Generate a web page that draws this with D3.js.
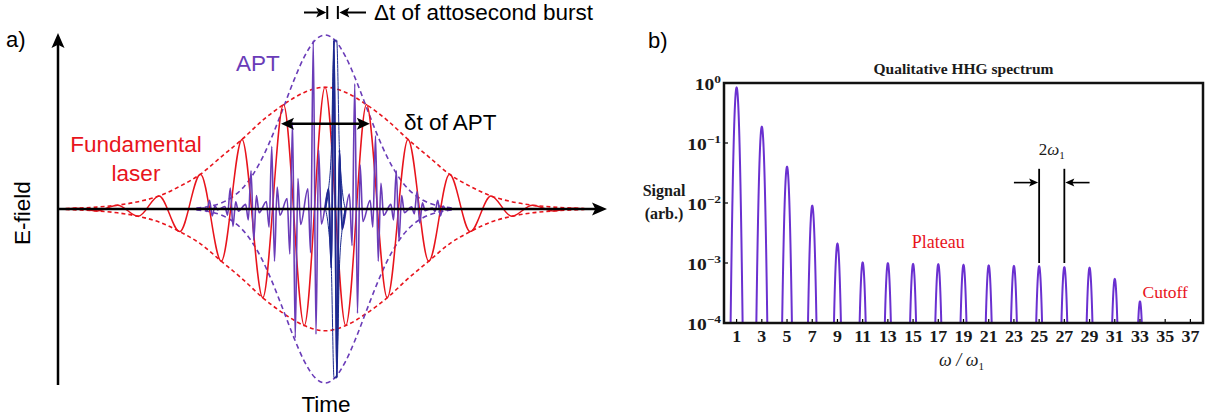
<!DOCTYPE html>
<html>
<head>
<meta charset="utf-8">
<script src="https://cdn.jsdelivr.net/npm/d3@7"></script>
<style>
  html, body { margin: 0; padding: 0; background: #fff; }
  svg { display: block; }
</style>
</head>
<body>
<svg id="fig" width="1205" height="419"></svg>
<script>
// ---------- Panel a: fundamental laser field and attosecond pulse train ----------
// time in optical cycles of the fundamental, field normalised to the APT peak

// extrema of the fundamental field (half-cycle spacing)
const laserTimes = [-6.25, -6, -5.5, -5, -4.5, -4, -3.5, -3, -2.5, -2, -1.5, -1, -0.5, 0,
                    0.5, 1, 1.5, 2, 2.5, 3, 3.5, 4, 4.5, 5, 5.5, 6, 6.25];
const laserField = [0, 0.005, -0.011, 0.022, -0.042, 0.075, -0.13, 0.20, -0.30, 0.40, -0.51, 0.60, -0.67, 0.70,
                    -0.67, 0.60, -0.51, 0.40, -0.30, 0.20, -0.13, 0.075, -0.042, 0.022, -0.011, 0.005, 0];

// envelope of the fundamental (dashed red)
const laserEnvTimes = [-6.25, -6, -5.5, -5, -4.5, -4, -3.5, -3, -2.5, -2, -1.5, -1, -0.5, 0,
                       0.5, 1, 1.5, 2, 2.5, 3, 3.5, 4, 4.5, 5, 5.5, 6, 6.25];
const laserEnv = [0.003, 0.005, 0.011, 0.022, 0.042, 0.075, 0.13, 0.20, 0.30, 0.40, 0.51, 0.60, 0.67, 0.70,
                  0.67, 0.60, 0.51, 0.40, 0.30, 0.20, 0.13, 0.075, 0.042, 0.022, 0.011, 0.005, 0.003];

// envelope of the attosecond pulse train (dashed purple)
const aptEnvTimes = [-3.1, -2.75, -2.5, -2.25, -2, -1.75, -1.5, -1.25, -1, -0.75, -0.5, -0.25, 0,
                     0.25, 0.5, 0.75, 1, 1.25, 1.5, 1.75, 2, 2.25, 2.5, 2.75, 3.1];
const aptEnv = [0.005, 0.017, 0.035, 0.066, 0.116, 0.193, 0.298, 0.432, 0.584, 0.739, 0.874, 0.967, 1,
                0.967, 0.874, 0.739, 0.584, 0.432, 0.298, 0.193, 0.116, 0.066, 0.035, 0.017, 0.005];

// one attosecond burst per half-cycle, at the zero crossings of the fundamental
const burstTimes = [-2.75, -2.25, -1.75, -1.25, -0.75, -0.25, 0.25, 0.75, 1.25, 1.75, 2.25, 2.75];
const burstUp    = [0.05, 0.12, 0.22, 0.36, 0.50, 0.97, 0.97, 0.72, 0.42, 0.22, 0.10, 0.05];
const burstDown  = [0.04, 0.10, 0.18, 0.30, 0.74, 0.72, 0.97, 0.60, 0.30, 0.18, 0.08, 0.04];
// extrema inside a single burst (offset in cycles, relative field)
const burstOffsets = [-0.1625, -0.0975, -0.0325, 0.0325, 0.0975, 0.1625];
const burstShape   = [0.12, -0.35, 1, -1, 0.35, -0.12];
const highlightedBurst = 6;   // the single attosecond burst drawn in blue

// ---------- Panel b: qualitative HHG spectrum ----------
const harmonicOrders = [1, 3, 5, 7, 9, 11, 13, 15, 17, 19, 21, 23, 25, 27, 29, 31, 33];
const harmonicSignal = [0.84, 0.186, 0.040, 0.0090, 0.0021, 0.00102, 0.00099, 0.00096, 0.00095,
                        0.00093, 0.00091, 0.00089, 0.00088, 0.00085, 0.00083, 0.00054, 0.000228];
const harmonicWidth = 0.112;   // rms width of each harmonic line, in units of omega_1
const xTickValues = [1, 3, 5, 7, 9, 11, 13, 15, 17, 19, 21, 23, 25, 27, 29, 31, 33, 35, 37];
const yTickValues = [1, 0.1, 0.01, 0.001, 0.0001];
const yTickExponents = ['0', '\u22121', '\u22122', '\u22123', '\u22124'];

// ---------- styling ----------
const RED = '#e8141c', PURPLE = '#6a3cb8', BLUE = '#1b2a8f', VIOLET = '#6a30d0';
const sans = "'Liberation Sans', Arial, sans-serif";
const serif = "'Liberation Serif', 'Times New Roman', serif";

const svg = d3.select('#fig');

function arrowHead(g, x, y, angle, len, half) {
  const c = Math.cos(angle), s = Math.sin(angle);
  const bx = x - c * len, by = y - s * len;
  const nx = x - c * len * 0.78, ny = y - s * len * 0.78;
  const p = d3.path();
  p.moveTo(x, y);
  p.lineTo(bx - s * half, by + c * half);
  p.lineTo(nx, ny);
  p.lineTo(bx + s * half, by - c * half);
  p.closePath();
  g.append('path').attr('d', p.toString()).attr('fill', '#000');
}

// =================== Panel a ===================
const ga = svg.append('g');
const xA = d3.scaleLinear().domain([-1, 1]).range([325 - 41.5, 325 + 41.5]);
const yA = d3.scaleLinear().domain([-1, 1]).range([383, 35]);
const lineA = d3.line().x(d => xA(d[0])).y(d => yA(d[1])).curve(d3.curveMonotoneX);

// dashed envelopes
[1, -1].forEach(sgn => {
  ga.append('path')
    .attr('d', lineA(laserEnvTimes.map((t, i) => [t, sgn * laserEnv[i]])))
    .attr('fill', 'none').attr('stroke', RED).attr('stroke-width', 1.6)
    .attr('stroke-dasharray', '4,3');
});
[1, -1].forEach(sgn => {
  ga.append('path')
    .attr('d', lineA(aptEnvTimes.map((t, i) => [t, sgn * aptEnv[i]])))
    .attr('fill', 'none').attr('stroke', PURPLE).attr('stroke-width', 1.6)
    .attr('stroke-dasharray', '5,3.5');
});

// fundamental field
ga.append('path')
  .attr('d', lineA(laserTimes.map((t, i) => [t, laserField[i]])))
  .attr('fill', 'none').attr('stroke', RED).attr('stroke-width', 1.5);

// attosecond pulse train
function burstPoints(k) {
  return burstOffsets.map((o, j) => {
    const a = burstShape[j] > 0 ? burstUp[k] : burstDown[k];
    return [burstTimes[k] + o, a * burstShape[j]];
  });
}
let train = [[-3.05, 0]];
burstTimes.forEach((t, k) => { train = train.concat(burstPoints(k)); });
train.push([3.05, 0]);
ga.append('path')
  .attr('d', lineA(train))
  .attr('fill', 'none').attr('stroke', PURPLE).attr('stroke-width', 1.6);

// highlighted single burst with its envelope
const hb = highlightedBurst;
const hbPts = [[burstTimes[hb] - 0.24, 0]].concat(burstPoints(hb), [[burstTimes[hb] + 0.24, 0]]);
ga.append('path')
  .attr('d', lineA(hbPts))
  .attr('fill', 'none').attr('stroke', BLUE).attr('stroke-width', 1.8);
[1, -1].forEach(sgn => {
  const env = [[burstTimes[hb] - 0.24, 0]]
    .concat(burstPoints(hb).map(p => [p[0], sgn * Math.abs(p[1])]))
    .concat([[burstTimes[hb] + 0.24, 0]]);
  ga.append('path')
    .attr('d', lineA(env))
    .attr('fill', 'none').attr('stroke', BLUE).attr('stroke-width', 1);
});

// axes with arrows
const x0 = 58, y0 = yA(0);
ga.append('line').attr('x1', x0).attr('x2', x0).attr('y1', 385).attr('y2', 44)
  .attr('stroke', '#000').attr('stroke-width', 2.5);
arrowHead(ga, x0, 33, -Math.PI / 2, 15, 6.5);
ga.append('line').attr('x1', x0).attr('x2', 596).attr('y1', y0).attr('y2', y0)
  .attr('stroke', '#000').attr('stroke-width', 2.5);
arrowHead(ga, 607, y0, 0, 15, 6.5);

// delta-t of APT double arrow (between the fundamental peaks at t = -1 and t = +1)
const yd = yA(0.49);
const la = xA(-1.06), ra = xA(1.08);
ga.append('line').attr('x1', la + 10).attr('x2', ra - 10).attr('y1', yd).attr('y2', yd)
  .attr('stroke', '#000').attr('stroke-width', 2.5);
arrowHead(ga, la, yd, Math.PI, 13, 6);
arrowHead(ga, ra, yd, 0, 13, 6);

// width marker of the single burst
const b1 = xA(0.03), b2 = xA(0.31), yb = 12.5;
ga.append('line').attr('x1', b1 + 1).attr('x2', b1 + 1).attr('y1', 6).attr('y2', 19).attr('stroke', '#000').attr('stroke-width', 2);
ga.append('line').attr('x1', b2).attr('x2', b2).attr('y1', 6).attr('y2', 19).attr('stroke', '#000').attr('stroke-width', 2);
ga.append('line').attr('x1', 304).attr('x2', b1 - 8).attr('y1', yb).attr('y2', yb).attr('stroke', '#000').attr('stroke-width', 2);
arrowHead(ga, b1, yb, 0, 10, 5);
ga.append('line').attr('x1', b2 + 8).attr('x2', 366).attr('y1', yb).attr('y2', yb).attr('stroke', '#000').attr('stroke-width', 2);
arrowHead(ga, b2 + 1.5, yb, Math.PI, 10, 5);

// labels
const ta = (x, y, s, color, size, anchor) =>
  ga.append('text').attr('x', x).attr('y', y).text(s)
    .attr('font-family', sans).attr('font-size', size || 22.5)
    .attr('fill', color || '#000').attr('text-anchor', anchor || 'start');
ta(6, 47, 'a)', '#000', 22);
ta(374, 20, '\u0394t of attosecond burst');
ta(236, 71, 'APT', PURPLE);
ta(136, 152, 'Fundamental', RED, 22.5, 'middle');
ta(136, 181, 'laser', RED, 22.5, 'middle');
ta(404, 130, '\u03b4t of APT');
ta(326, 412, 'Time', '#000', 22.5, 'middle');
ga.append('text').attr('transform', 'translate(30,213) rotate(-90)')
  .attr('text-anchor', 'middle').attr('font-family', sans).attr('font-size', 22.5)
  .text('E-field');

// =================== Panel b ===================
const gb = svg.append('g');
const L = 724, R = 1203, T = 83, B = 323;
const xB = d3.scaleLinear().domain([0, 38]).range([L, R]);
const yB = d3.scaleLog().domain([1e-4, 1]).range([B, T]);

gb.append('defs').append('clipPath').attr('id', 'plotClip')
  .append('rect').attr('x', L).attr('y', T).attr('width', R - L).attr('height', B - T);

// spectrum: sum of harmonic lines sampled finely along omega/omega_1
const grid = d3.range(0, 38.0001, 0.01);
const spectrum = grid.map(w => {
  let s = 1e-7;
  harmonicOrders.forEach((q, i) => {
    const d = (w - q) / harmonicWidth;
    s += harmonicSignal[i] * Math.exp(-0.5 * d * d);
  });
  return [w, s];
});
gb.append('path')
  .attr('clip-path', 'url(#plotClip)')
  .attr('d', d3.line().x(d => xB(d[0])).y(d => yB(d[1]))(spectrum))
  .attr('fill', 'none').attr('stroke', VIOLET).attr('stroke-width', 2);

// stretched serif text helper (panel b lettering is wide)
function serifText(g, x, y, anchor, size, weight, stretch) {
  return g.append('text')
    .attr('transform', `translate(${x},${y}) scale(${stretch || 1},1)`)
    .attr('text-anchor', anchor).attr('font-family', serif)
    .attr('font-size', size).attr('font-weight', weight || 'normal').attr('fill', '#1a1a1a');
}

// ticks (inward)
xTickValues.forEach(v => {
  gb.append('line').attr('x1', xB(v)).attr('x2', xB(v)).attr('y1', B).attr('y2', B - 4)
    .attr('stroke', '#000').attr('stroke-width', 1.2);
  serifText(gb, xB(v), 342, 'middle', 16, 'bold', 1.12).text(v);
});
yTickValues.forEach((v, i) => {
  gb.append('line').attr('x1', L).attr('x2', L + 4).attr('y1', yB(v)).attr('y2', yB(v))
    .attr('stroke', '#000').attr('stroke-width', 1.2);
  const t = serifText(gb, 721, yB(v) + 7, 'end', 16, 'bold', 1.22);
  t.append('tspan').text('10');
  t.append('tspan').attr('dy', -7.5).attr('font-size', 11).text(yTickExponents[i]);
});

// frame
gb.append('rect').attr('x', L).attr('y', T).attr('width', R - L).attr('height', B - T)
  .attr('fill', 'none').attr('stroke', '#111').attr('stroke-width', 2.5);

// title and axis labels
serifText(gb, (L + R) / 2, 74, 'middle', 15.5, 'bold').text('Qualitative HHG spectrum');
serifText(gb, 664, 196, 'middle', 16, 'bold').text('Signal');
serifText(gb, 664, 219, 'middle', 16, 'bold').text('(arb.)');
const xl = serifText(gb, (L + R) / 2 - 2, 366, 'middle', 18);
xl.append('tspan').attr('font-style', 'italic').text('\u03c9 / \u03c9');
xl.append('tspan').attr('dy', 4).attr('font-size', 11).text('1');

// annotations
serifText(gb, xB(17), yB(Math.pow(10, -2.75)), 'middle', 18).attr('fill', RED).text('Plateau');
serifText(gb, xB(35), yB(Math.pow(10, -3.58)), 'middle', 17.5).attr('fill', RED).text('Cutoff');

// 2 omega_1 spacing marker between harmonics 25 and 27
const ySpan1 = yB(Math.pow(10, -1.43)), ySpan2 = yB(1e-3), yArr = yB(Math.pow(10, -1.66));
[25, 27].forEach(q => {
  gb.append('line').attr('x1', xB(q)).attr('x2', xB(q)).attr('y1', ySpan1).attr('y2', ySpan2)
    .attr('stroke', '#000').attr('stroke-width', 1.8);
});
gb.append('line').attr('x1', xB(23)).attr('x2', xB(25) - 6).attr('y1', yArr).attr('y2', yArr)
  .attr('stroke', '#000').attr('stroke-width', 1.6);
arrowHead(gb, xB(25) - 1, yArr, 0, 9, 4);
gb.append('line').attr('x1', xB(27) + 6).attr('x2', xB(29)).attr('y1', yArr).attr('y2', yArr)
  .attr('stroke', '#000').attr('stroke-width', 1.6);
arrowHead(gb, xB(27) + 1, yArr, Math.PI, 9, 4);
const om = serifText(gb, xB(26), yB(Math.pow(10, -1.2)), 'middle', 17);
om.append('tspan').text('2');
om.append('tspan').attr('font-style', 'italic').text('\u03c9');
om.append('tspan').attr('dy', 4).attr('font-size', 11).text('1');

svg.append('text').attr('x', 648).attr('y', 48).attr('font-family', sans).attr('font-size', 22)
  .text('b)');
</script>
</body>
</html>
